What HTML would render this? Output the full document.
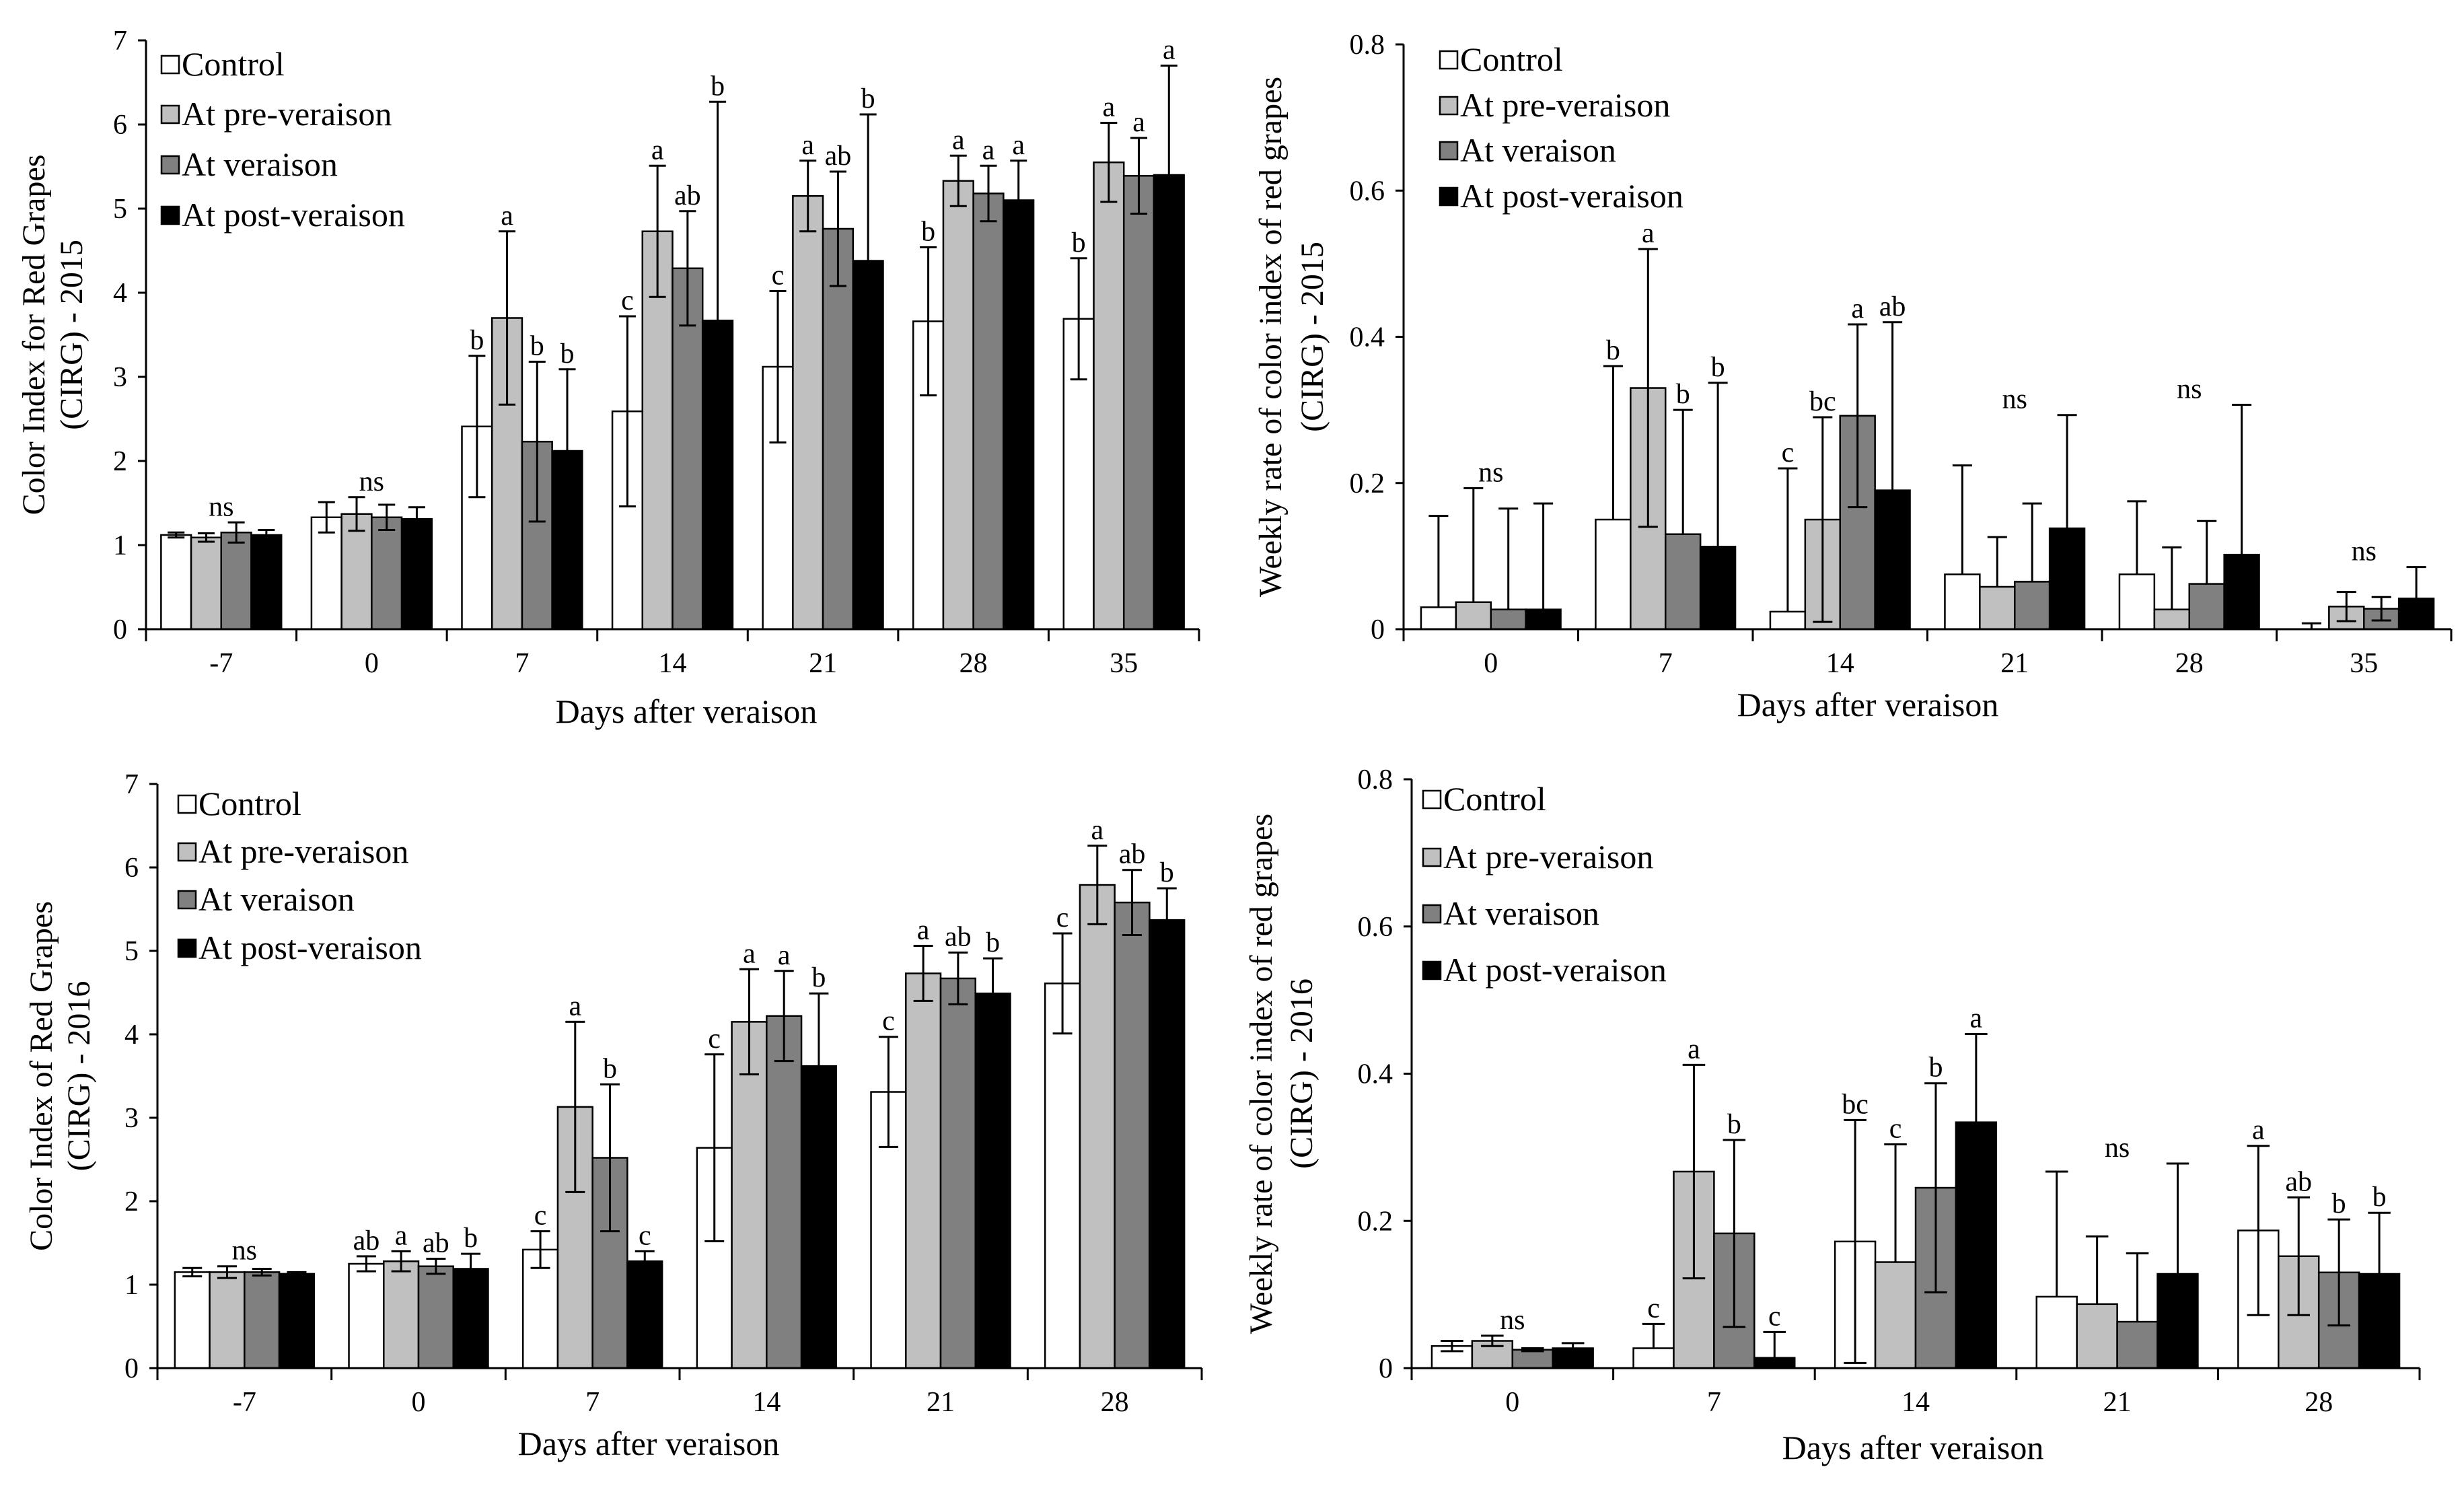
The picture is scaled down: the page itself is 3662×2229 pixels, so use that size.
<!DOCTYPE html>
<html><head><meta charset="utf-8"><style>
html,body{margin:0;padding:0;background:#fff;}
svg{display:block;font-family:"Liberation Serif",serif;}
</style></head><body>
<svg id="fig" width="3662" height="2229" viewBox="0 0 3662 2229"></svg>
<script>
// ---- Panel A: CIRG 2015 ----
const catsA = ["-7","0","7","14","21","28","35"];
const ctrlA = [1.12,1.33,2.41,2.59,3.12,3.66,3.69];
const preA  = [1.09,1.37,3.70,4.73,5.15,5.33,5.55];
const verA  = [1.15,1.33,2.23,4.29,4.76,5.18,5.39];
const postA = [1.12,1.31,2.12,3.67,4.38,5.10,5.40];
const eCtrlA = [0.03,0.18,0.84,1.13,0.90,0.88,0.72];
const ePreA  = [0.05,0.20,1.03,0.78,0.42,0.30,0.47];
const eVerA  = [0.12,0.15,0.95,0.68,0.68,0.33,0.45];
const ePostA = [0.06,0.14,0.97,2.60,1.74,0.47,1.30];
const lettersA = [["ns"],["ns"],["b","a","b","b"],["c","a","ab","b"],["c","a","ab","b"],["b","a","a","a"],["b","a","a","a"]];
const yTicksA = ["0","1","2","3","4","5","6","7"];
// ---- Panel B: weekly rate 2015 ----
const catsB = ["0","7","14","21","28","35"];
const ctrlB = [0.030,0.150,0.024,0.075,0.075,0.000];
const preB  = [0.037,0.330,0.150,0.058,0.027,0.031];
const verB  = [0.027,0.130,0.292,0.065,0.062,0.028];
const postB = [0.027,0.113,0.190,0.138,0.102,0.042];
const eCtrlB = [0.125,0.210,0.196,0.149,0.100,0.008];
const ePreB  = [0.156,0.190,0.140,0.068,0.085,0.020];
const eVerB  = [0.138,0.170,0.125,0.107,0.086,0.016];
const ePostB = [0.145,0.224,0.230,0.155,0.205,0.043];
const lettersB = [["ns"],["b","a","b","b"],["c","bc","a","ab"],["ns"],["ns"],["ns"]];
const yTicksB = ["0","0.2","0.4","0.6","0.8"];
// ---- Panel C: CIRG 2016 ----
const catsC = ["-7","0","7","14","21","28"];
const ctrlC = [1.15,1.25,1.42,2.64,3.31,4.61];
const preC  = [1.15,1.28,3.13,4.15,4.73,5.79];
const verC  = [1.15,1.22,2.52,4.22,4.67,5.58];
const postC = [1.13,1.19,1.28,3.62,4.49,5.37];
const eCtrlC = [0.05,0.09,0.22,1.12,0.66,0.60];
const ePreC  = [0.07,0.12,1.02,0.63,0.33,0.47];
const eVerC  = [0.04,0.09,0.88,0.54,0.31,0.39];
const ePostC = [0.02,0.18,0.12,0.87,0.42,0.38];
const lettersC = [["ns"],["ab","a","ab","b"],["c","a","b","c"],["c","a","a","b"],["c","a","ab","b"],["c","a","ab","b"]];
const yTicksC = ["0","1","2","3","4","5","6","7"];
// ---- Panel D: weekly rate 2016 ----
const catsD = ["0","7","14","21","28"];
const ctrlD = [0.030,0.027,0.172,0.097,0.187];
const preD  = [0.037,0.267,0.144,0.087,0.152];
const verD  = [0.025,0.183,0.245,0.063,0.130];
const postD = [0.027,0.014,0.334,0.128,0.128];
const eCtrlD = [0.007,0.033,0.165,0.170,0.115];
const ePreD  = [0.007,0.145,0.160,0.092,0.080];
const eVerD  = [0.002,0.127,0.142,0.093,0.072];
const ePostD = [0.007,0.035,0.120,0.150,0.083];
const lettersD = [["ns"],["c","a","b","c"],["bc","c","b","a"],["ns"],["a","ab","b","b"]];
const yTicksD = ["0","0.2","0.4","0.6","0.8"];

const NS="http://www.w3.org/2000/svg";
const svg=document.getElementById('fig');
const fills=["#ffffff","#c0c0c0","#808080","#000000"];
const legendNames=["Control","At pre-veraison","At veraison","At post-veraison"];
function mk(tag,attrs,parent){const e=document.createElementNS(NS,tag);for(const k in attrs)e.setAttribute(k,attrs[k]);(parent||svg).appendChild(e);return e;}

function panel(p){
  const g=mk('g',{});
  
  
  const yMax=p.yMax;
  const Y=v=>p.y0-(v/yMax)*(p.y0-p.y1);
  const n=p.cats.length, gw=(p.x1-p.x0)/n, bw=gw*0.8/4;
  const X=(i,s)=>p.x0+i*gw+gw*0.1+s*bw;
  const series=[p.ctrl,p.pre,p.ver,p.post], errs=[p.eCtrl,p.ePre,p.eVer,p.ePost];
  for(let i=0;i<n;i++){
    for(let s=0;s<4;s++){
      const v=series[s][i];
      const r=mk('rect',{x:X(i,s),y:Y(v),width:bw,height:Math.max(0,p.y0-Y(v)),fill:fills[s],stroke:'#000','stroke-width':2.5},g);
      
      
    }
  }
  let tops=[];
  for(let i=0;i<n;i++){
    tops[i]=[];
    for(let s=0;s<4;s++){
      const v=series[s][i], e=errs[s][i], cx=X(i,s)+bw/2, cw=bw*0.28;
      const yt=Y(v+e); tops[i][s]=yt;
      const eg=mk('g',{stroke:'#000','stroke-width':3},g);
      
      
      mk('line',{x1:cx,x2:cx,y1:Y(v),y2:yt},eg);
      mk('line',{x1:cx-cw,x2:cx+cw,y1:yt,y2:yt},eg);
      if(v-e>=0){const yb=Y(v-e);mk('line',{x1:cx,x2:cx,y1:Y(v),y2:yb},eg);mk('line',{x1:cx-cw,x2:cx+cw,y1:yb,y2:yb},eg);}
    }
    const L=p.letters[i];
    if(L.length===1){
      const t=mk('text',{x:p.x0+i*gw+gw/2,y:Math.min(...tops[i])-10,'font-size':42,'text-anchor':'middle'},g);
      t.textContent=L[0];
      
      
    } else {
      for(let s=0;s<4;s++){
        const t=mk('text',{x:X(i,s)+bw/2,y:tops[i][s]-10,'font-size':42,'text-anchor':'middle'},g);
        t.textContent=L[s];
        
        
      }
    }
  }
  const ax=mk('g',{stroke:'#000','stroke-width':3},g);
  
  
  mk('line',{x1:p.x0,x2:p.x0,y1:p.y1,y2:p.y0},ax);
  mk('line',{x1:p.x0,x2:p.x1,y1:p.y0,y2:p.y0},ax);
  for(let i=0;i<=n;i++){const x=p.x0+i*gw;mk('line',{x1:x,x2:x,y1:p.y0,y2:p.y0+18},ax);}
  p.yTicks.forEach((lab,k)=>{
    const v=k*yMax/(p.yTicks.length-1), y=Y(v);
    mk('line',{x1:p.x0-12,x2:p.x0,y1:y,y2:y},ax);
    const t=mk('text',{x:p.x0-28,y:y+14,'font-size':42,'text-anchor':'end'},g);
    t.textContent=lab;
    
    
  });
  p.cats.forEach((c,i)=>{
    const t=mk('text',{x:p.x0+i*gw+gw/2,y:p.y0+64,'font-size':42,'text-anchor':'middle'},g);
    t.textContent=c;
    
    
  });
  const xt=mk('text',{x:p.xtX,y:p.xtY,'font-size':50,'text-anchor':'middle'},g);
  xt.textContent="Days after veraison";
  
  
  const yt=mk('text',{transform:`translate(${p.ytX},${(p.y0+p.y1)/2}) rotate(-90)`,'font-size':48,'text-anchor':'middle'},g);
  
  
  const t1=mk('tspan',{x:0,y:0},yt);t1.textContent=p.ytitle1;
  const t2=mk('tspan',{x:0,dy:p.ytGap},yt);t2.textContent=p.ytitle2;
  const lg=mk('g',{},g);
  
  
  legendNames.forEach((nm,s)=>{
    const y=p.legY[s];
    const e=mk('g',{},lg);
    
    
    mk('rect',{x:p.legX,y:y-13,width:26,height:26,fill:fills[s],stroke:'#000','stroke-width':2.5},e);
    const t=mk('text',{x:p.legX+30,y:y+16,'font-size':50},e);
    t.textContent=nm;
  });
}

panel({name:'chart-cirg-2015',cats:catsA,ctrl:ctrlA,pre:preA,ver:verA,post:postA,eCtrl:eCtrlA,ePre:ePreA,eVer:eVerA,ePost:ePostA,letters:lettersA,yTicks:yTicksA,yMax:7,
  x0:217,x1:1782,y0:935,y1:60,xtX:1020,xtY:1074,ytX:66,ytGap:56,ytitle1:"Color Index for Red Grapes",ytitle2:"(CIRG)   - 2015",
  legX:240,legY:[96,170,245,320]});
panel({name:'chart-weekly-rate-2015',cats:catsB,ctrl:ctrlB,pre:preB,ver:verB,post:postB,eCtrl:eCtrlB,ePre:ePreB,eVer:eVerB,ePost:ePostB,letters:lettersB,yTicks:yTicksB,yMax:0.8,
  x0:2086,x1:3643,y0:935,y1:66,xtX:2776,xtY:1064,ytX:1904,ytGap:62,ytitle1:"Weekly rate of color index of red grapes",ytitle2:"(CIRG)   - 2015",
  legX:2140,legY:[89,157,224,292]});
panel({name:'chart-cirg-2016',cats:catsC,ctrl:ctrlC,pre:preC,ver:verC,post:postC,eCtrl:eCtrlC,ePre:ePreC,eVer:eVerC,ePost:ePostC,letters:lettersC,yTicks:yTicksC,yMax:7,
  x0:234,x1:1786,y0:2033,y1:1165,xtX:964,xtY:2162,ytX:77,ytGap:56,ytitle1:"Color Index of Red Grapes",ytitle2:"(CIRG)   - 2016",
  legX:265,legY:[1195,1266,1337,1409]});
panel({name:'chart-weekly-rate-2016',cats:catsD,ctrl:ctrlD,pre:preD,ver:verD,post:postD,eCtrl:eCtrlD,ePre:ePreD,eVer:eVerD,ePost:ePostD,letters:lettersD,yTicks:yTicksD,yMax:0.8,
  x0:2098,x1:3596,y0:2033,y1:1158,xtX:2843,xtY:2168,ytX:1890,ytGap:60,ytitle1:"Weekly rate of color index of red grapes",ytitle2:"(CIRG)   - 2016",
  legX:2115,legY:[1188,1274,1358,1442]});
</script>
</body></html>
